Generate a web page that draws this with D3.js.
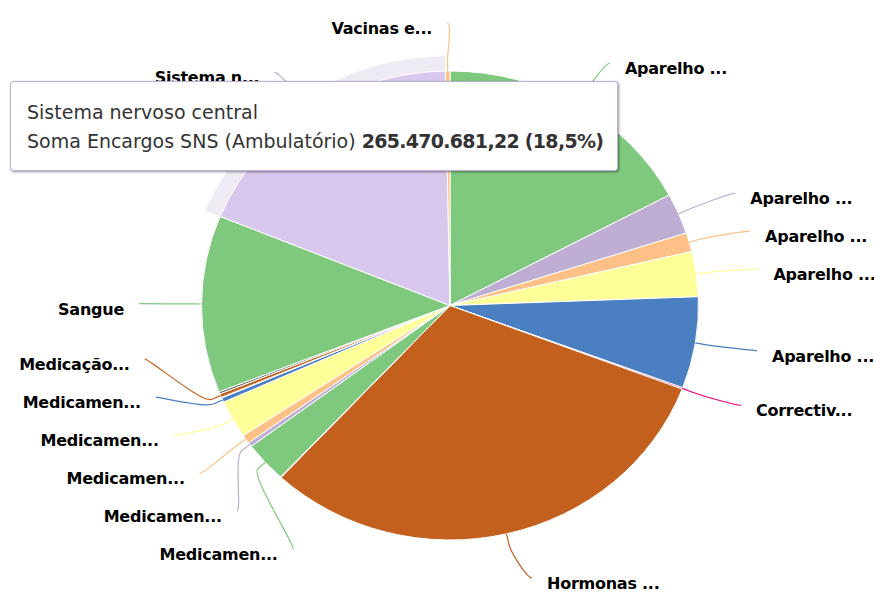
<!DOCTYPE html>
<html><head><meta charset="utf-8">
<script src="https://cdn.jsdelivr.net/npm/d3@7"></script>
<style>html,body{margin:0;padding:0;background:#fff;} svg{display:block}</style>
</head><body>
<svg id="chart" width="874" height="593"></svg>
<script>
// ---- data ----
const categories = [
  "Aparelho cardiovascular",
  "Aparelho digestivo",
  "Aparelho geniturinário",
  "Aparelho locomotor",
  "Aparelho respiratório",
  "Correctivos da volémia e das alterações electrolíticas",
  "Hormonas e medicamentos usados no tratamento das doenças endócrinas",
  "Medicamentos antialérgicos",
  "Medicamentos anti-infecciosos",
  "Medicamentos antineoplásicos e imunomoduladores",
  "Medicamentos usados em afecções cutâneas",
  "Medicamentos usados em afecções oculares",
  "Medicamentos usados em afecções otorrinolaringológicas",
  "Medicamentos usados no tratamento de intoxicações",
  "Medicação antiálgica",
  "Nutrição",
  "Sangue",
  "Sistema nervoso central",
  "Vacinas e imunoglobulinas"
];
const values = [
  246800000, 40200000, 18700000, 44500000, 90400000,
  1400000, 446300000, 700000, 40200000, 4300000,
  8600000, 37300000, 4300000, 700000, 3600000,
  2200000, 175100000, 265470681.22, 4300000
];
const palette = ["#7fc97f", "#beaed4", "#fdc086", "#ffff99", "#4a7fc1", "#f0027f", "#c4601e", "#666666"];
const seriesName = "Soma Encargos SNS (Ambulatório)";
const hoveredCategory = "Sistema nervoso central";

// ---- layout ----
const W = 874, H = 593;
const cx = 450, cy = 305.5, rx = 248.5, ry = 234.5;
const labelDY = 48, labelRx = 311, labelSize = 38, maxShift = 80, distLen = 597;
const haloSize = 15;

const svg = d3.select("#chart");
const data = categories.map((name, i) => ({name, value: values[i], color: palette[i % palette.length], index: i}));
const total = d3.sum(values);
const arcs = d3.pie().sort(null).value(d => d.value).startAngle(0).endAngle(2 * Math.PI)(data);

const pieG = svg.append("g").attr("transform", `translate(${cx},${cy}) scale(${rx / ry},1)`);
const arcGen = d3.arc().innerRadius(0).outerRadius(ry);

function brighten(c, k) {
  const r = d3.rgb(c);
  return d3.rgb(Math.min(255, r.r + 255 * k), Math.min(255, r.g + 255 * k), Math.min(255, r.b + 255 * k)).formatHex();
}

// halo for hovered slice
const hov = arcs.find(a => a.data.name === hoveredCategory);
pieG.append("path")
  .attr("d", d3.arc().innerRadius(ry - 1).outerRadius(ry + haloSize)(hov))
  .attr("fill", hov.data.color).attr("fill-opacity", 0.25);

pieG.selectAll("path.slice").data(arcs).join("path")
  .attr("class", "slice")
  .attr("d", arcGen)
  .attr("fill", d => d.data.name === hoveredCategory ? brighten(d.data.color, 0.1) : d.data.color)
  .attr("stroke", "#fff").attr("stroke-width", 1)
  .attr("stroke-linejoin", "round")
  .attr("vector-effect", "non-scaling-stroke");

// ---- data labels ----
const items = arcs.map(a => {
  const mid = (a.startAngle + a.endAngle) / 2;
  const ux = Math.sin(mid), uy = -Math.cos(mid);
  return {
    arc: a, ux, uy,
    side: mid > Math.PI ? -1 : 1,
    target: cy + (ry + labelDY) * uy,
    value: a.data.value
  };
});

function distribute(list) {
  let active = list.slice();
  while (active.length) {
    let boxes = active.slice().sort((a, b) => a.target - b.target)
      .map(it => ({size: labelSize, targets: [it.target], members: [it]}));
    let overlapping = true;
    while (overlapping) {
      boxes.forEach(b => {
        const mid = (d3.min(b.targets) + d3.max(b.targets)) / 2;
        b.pos = Math.max(0, Math.min(distLen - b.size, mid - b.size / 2));
      });
      overlapping = false;
      for (let i = boxes.length - 1; i > 0; i--) {
        if (boxes[i - 1].pos + boxes[i - 1].size > boxes[i].pos) {
          boxes[i - 1].size += boxes[i].size;
          boxes[i - 1].targets = boxes[i - 1].targets.concat(boxes[i].targets);
          boxes[i - 1].members = boxes[i - 1].members.concat(boxes[i].members);
          boxes.splice(i, 1);
          overlapping = true;
        }
      }
    }
    let worst = 0;
    boxes.forEach(b => b.members.forEach((m, k) => {
      m.y = b.pos + labelSize * k + labelSize / 2;
      worst = Math.max(worst, Math.abs(m.y - m.target));
    }));
    if (worst <= maxShift) { active.forEach(m => m.visible = true); return; }
    const lowest = active.reduce((a, b) => (b.value < a.value ? b : a));
    active = active.filter(m => m !== lowest);
  }
}
distribute(items.filter(d => d.side === 1));
distribute(items.filter(d => d.side === -1));

const labelG = svg.append("g");
items.filter(d => d.visible).forEach(d => {
  const y = d.y;
  const s = Math.max(-1, Math.min(1, (y - cy) / (ry + labelDY)));
  const ex = cx + d.side * Math.cos(Math.asin(s)) * labelRx;
  const tx = cx + rx * d.ux, ty = cy + ry * d.uy;
  const off = 10;
  const bx = cx + (rx + off) * d.ux, by = cy + (ry + off) * d.uy;
  const p = d3.path();
  p.moveTo(ex, y);
  p.bezierCurveTo(ex - d.side * 5, y, 2 * bx - tx, 2 * by - ty, bx, by);
  p.lineTo(tx, ty);
  labelG.append("path").attr("d", p.toString())
    .attr("fill", "none").attr("stroke", d.arc.data.color).attr("stroke-width", 1.2);
  const name = d.arc.data.name;
  const txt = name.length > 9 ? name.slice(0, 9) + "..." : name;
  labelG.append("text")
    .attr("x", ex + d.side * 15).attr("y", y + 11)
    .attr("text-anchor", d.side === 1 ? "start" : "end")
    .attr("font-family", "'DejaVu Sans', Verdana, sans-serif")
    .attr("font-size", 16).attr("font-weight", "bold")
    .attr("letter-spacing", -0.25)
    .attr("fill", "#000")
    .attr("stroke", "#fff").attr("stroke-width", 1.2).attr("stroke-linejoin", "round")
    .attr("paint-order", "stroke")
    .text(txt);
});

// ---- tooltip ----
const loc = d3.formatLocale({decimal: ",", thousands: ".", grouping: [3], currency: ["", ""]});
const fmtVal = loc.format(",.2f");
const fmtPct = loc.format(".1f");
const tip = svg.append("g").attr("transform", "translate(10.5,81.5)");
const tw = 607, th = 89;
[[5, 0.05], [3, 0.1], [1, 0.15]].forEach(([sw, op]) => {
  tip.append("rect").attr("x", 1).attr("y", 1).attr("width", tw).attr("height", th).attr("rx", 3)
    .attr("fill", "none").attr("stroke", "#000").attr("stroke-opacity", op).attr("stroke-width", sw);
});
tip.append("rect").attr("width", tw).attr("height", th).attr("rx", 3)
  .attr("fill", "#fff").attr("stroke", hov.data.color).attr("stroke-width", 1);
const tt = tip.append("text").attr("font-family", "'DejaVu Sans', Verdana, sans-serif")
  .attr("font-size", 19).attr("fill", "#333");
tt.append("tspan").attr("x", 16.5).attr("y", 37.5).text(hov.data.name);
tt.append("tspan").attr("x", 16.5).attr("y", 66.5).text(seriesName + " ");
tt.append("tspan").attr("font-weight", "bold").attr("letter-spacing", -0.7)
  .text(fmtVal(hov.data.value) + " (" + fmtPct(hov.data.value / total * 100) + "%)");
</script>
</body></html>
